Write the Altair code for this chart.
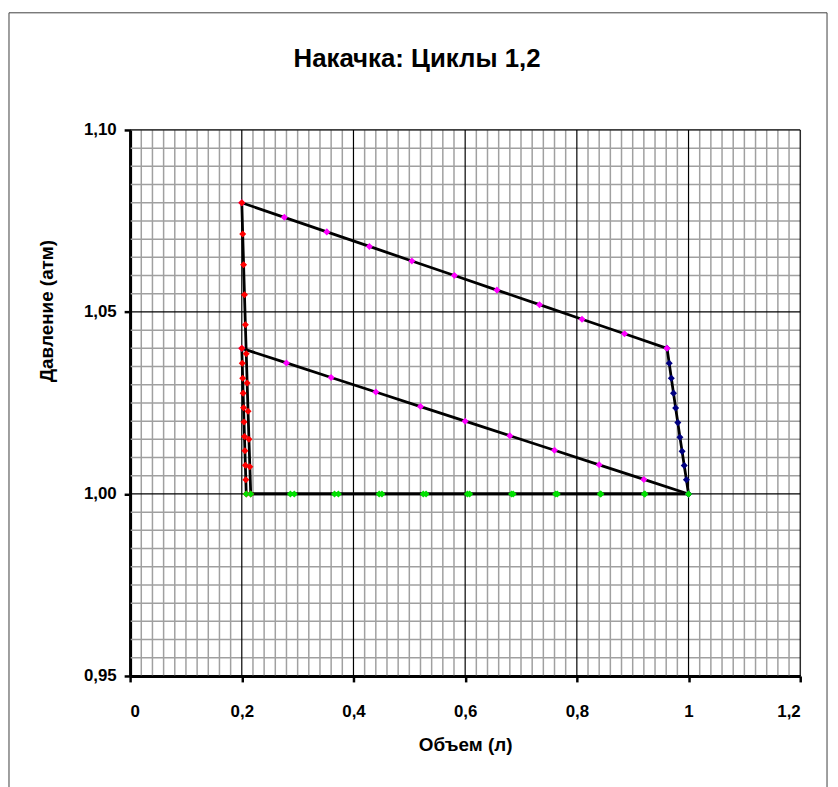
import altair as alt
import pandas as pd

# ---- data ----
# Cycle 1: compression with valve open (pressure rises with tank)
c1_comp_V = [1.000, 0.920, 0.840, 0.760, 0.680, 0.600, 0.520, 0.440, 0.360, 0.280, 0.200]
c1_comp_P = [1.000, 1.004, 1.008, 1.012, 1.016, 1.020, 1.024, 1.028, 1.032, 1.036, 1.040]
# Cycle 1: expansion of dead volume
c1_exp_V = [0.2000, 0.2008, 0.2016, 0.2024, 0.2032, 0.2040, 0.2048, 0.2056, 0.2064, 0.2072, 0.2080]
c1_exp_P = [1.0400, 1.0359, 1.0318, 1.0277, 1.0237, 1.0198, 1.0158, 1.0119, 1.0079, 1.0039, 1.0000]
# Cycle 1: intake
c1_in_V = [0.208, 0.287, 0.366, 0.446, 0.525, 0.604, 0.683, 0.762, 0.842, 0.921, 1.000]
c1_in_P = [1.000, 1.000, 1.000, 1.000, 1.000, 1.000, 1.000, 1.000, 1.000, 1.000, 1.000]
# Cycle 2: compression with closed valve
c2_cl_V = [1.0000, 0.9962, 0.9923, 0.9885, 0.9846, 0.9808, 0.9769, 0.9731, 0.9692, 0.9654, 0.9615]
c2_cl_P = [1.0000, 1.0039, 1.0078, 1.0117, 1.0156, 1.0196, 1.0236, 1.0277, 1.0318, 1.0359, 1.0400]
# Cycle 2: compression with valve open
c2_comp_V = [0.9615, 0.8854, 0.8092, 0.7331, 0.6569, 0.5808, 0.5046, 0.4285, 0.3523, 0.2762, 0.2000]
c2_comp_P = [1.040, 1.044, 1.048, 1.052, 1.056, 1.060, 1.064, 1.068, 1.072, 1.076, 1.080]
# Cycle 2: expansion of dead volume
c2_exp_V = [0.2000, 0.2016, 0.2032, 0.2048, 0.2064, 0.2080, 0.2096, 0.2112, 0.2128, 0.2144, 0.2160]
c2_exp_P = [1.0800, 1.0714, 1.0630, 1.0547, 1.0465, 1.0385, 1.0305, 1.0227, 1.0150, 1.0075, 1.0000]
# Cycle 2: intake
c2_in_V = [0.216, 0.294, 0.373, 0.451, 0.530, 0.608, 0.686, 0.765, 0.843, 0.922, 1.000]
c2_in_P = [1.000, 1.000, 1.000, 1.000, 1.000, 1.000, 1.000, 1.000, 1.000, 1.000, 1.000]

series_names = ["c1_comp", "c1_exp", "c1_in", "c2_cl", "c2_comp", "c2_exp", "c2_in"]
series_V = [c1_comp_V, c1_exp_V, c1_in_V, c2_cl_V, c2_comp_V, c2_exp_V, c2_in_V]
series_P = [c1_comp_P, c1_exp_P, c1_in_P, c2_cl_P, c2_comp_P, c2_exp_P, c2_in_P]
series_colors = ["#FF00FF", "#FF0000", "#00E000", "#000080", "#FF00FF", "#FF0000", "#00E000"]
series_shapes = ["diamond", "diamond", "diamond", "diamond", "diamond", "diamond", "diamond"]

x_ticks = [0, 0.2, 0.4, 0.6, 0.8, 1.0, 1.2]
y_ticks = [0.95, 1.00, 1.05, 1.10]
x_minor = [round(k * 0.02, 3) for k in range(61) if k % 10 != 0]
y_minor = [round(0.95 + k * 0.005, 4) for k in range(31) if k % 10 != 0]

title_text = "Накачка: Циклы 1,2"
x_title = "Объем (л)"
y_title = "Давление (атм)"

rows = []
for name, vs, ps in zip(series_names, series_V, series_P):
    for i, (v, p) in enumerate(zip(vs, ps)):
        rows.append({"series": name, "i": i, "V": v, "P": p})
df = pd.DataFrame(rows)

W, H = 675, 550
FONT = "Liberation Sans"

xscale = alt.Scale(domain=[0, 1.2], nice=False, zero=False)
yscale = alt.Scale(domain=[0.95, 1.10], nice=False, zero=False)

one = pd.DataFrame({"a": [0]})

frame = alt.Chart(one).mark_rect(
    fill=None, stroke="#404040", strokeWidth=1
).encode(
    x=alt.value(-122), x2=alt.value(W + 27),
    y=alt.value(-118), y2=alt.value(H + 140)
)

title_mark = alt.Chart(pd.DataFrame({"t": [title_text]})).mark_text(
    font=FONT, fontWeight="bold", fontSize=26, color="black",
    align="center", baseline="middle"
).encode(x=alt.value(289), y=alt.value(-71), text="t:N")

minor_x = alt.Chart(pd.DataFrame({"v": x_minor})).mark_rule(
    color="#a0a0a0", strokeWidth=1.5
).encode(x=alt.X("v:Q", scale=xscale))
minor_y = alt.Chart(pd.DataFrame({"v": y_minor})).mark_rule(
    color="#a0a0a0", strokeWidth=1.5
).encode(y=alt.Y("v:Q", scale=yscale))
major_x = alt.Chart(pd.DataFrame({"v": x_ticks})).mark_rule(
    color="#000000", strokeWidth=1.2
).encode(x=alt.X("v:Q", scale=xscale))
major_y = alt.Chart(pd.DataFrame({"v": y_ticks})).mark_rule(
    color="#000000", strokeWidth=1.2
).encode(y=alt.Y("v:Q", scale=yscale))

x_axis = alt.Axis(
    values=x_ticks, grid=False, domainColor="black", domainWidth=3,
    tickColor="black", tickWidth=2.5, tickSize=6,
    labelExpr="replace(format(datum.value, '.1~f'), '.', ',')",
    labelFont=FONT, labelFontWeight="bold", labelFontSize=17, labelColor="black",
    labelBaseline="middle", labelPadding=30,
    title=x_title, titleFont=FONT, titleFontWeight="bold", titleFontSize=19,
    titleColor="black", titleY=69, titleBaseline="middle",
)
y_axis = alt.Axis(
    values=y_ticks, grid=False, domainColor="black", domainWidth=3,
    tickColor="black", tickWidth=2.5, tickSize=6,
    labelExpr="replace(format(datum.value, '.2f'), '.', ',')",
    labelFont=FONT, labelFontWeight="bold", labelFontSize=17, labelColor="black",
    labelPadding=8,
    title=y_title, titleFont=FONT, titleFontWeight="bold", titleFontSize=19,
    titleColor="black", titleX=-84, titleY=182, titleAngle=270,
    titleAlign="center", titleBaseline="middle",
)

lines = alt.Chart(df).mark_line(color="black", strokeWidth=2.8).encode(
    x=alt.X("V:Q", scale=xscale, axis=x_axis),
    y=alt.Y("P:Q", scale=yscale, axis=y_axis),
    detail="series:N",
    order="i:Q",
)

points = alt.Chart(df).mark_point(filled=True, size=50, opacity=1, strokeWidth=1).encode(
    x=alt.X("V:Q", scale=xscale),
    y=alt.Y("P:Q", scale=yscale),
    color=alt.Color("series:N", scale=alt.Scale(domain=series_names, range=series_colors), legend=None),
    shape=alt.Shape("series:N", scale=alt.Scale(domain=series_names, range=series_shapes), legend=None),
)

chart = alt.layer(frame, minor_x, minor_y, major_x, major_y, lines, points, title_mark).properties(
    width=W, height=H,
    autosize=alt.AutoSizeParams(type="none"),
    padding={"left": 123, "top": 120, "right": 30, "bottom": 109},
).configure_view(stroke=None).configure(background="white")

chart.save("out.html", embed_options={"renderer": "svg", "actions": False})
